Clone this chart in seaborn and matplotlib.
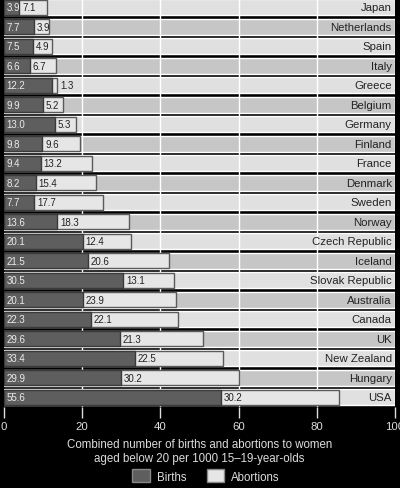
import matplotlib
matplotlib.use("Agg")
import matplotlib.pyplot as plt
from matplotlib.patches import Patch
import seaborn as sns
import pandas as pd

countries = ["Japan", "Netherlands", "Spain", "Italy", "Greece", "Belgium", "Germany",
             "Finland", "France", "Denmark", "Sweden", "Norway", "Czech Republic", "Iceland",
             "Slovak Republic", "Australia", "Canada", "UK", "New Zealand", "Hungary", "USA"]
births = [3.9, 7.7, 7.5, 6.6, 12.2, 9.9, 13.0, 9.8, 9.4, 8.2, 7.7, 13.6, 20.1, 21.5,
          30.5, 20.1, 22.3, 29.6, 33.4, 29.9, 55.6]
abortions = [7.1, 3.9, 4.9, 6.7, 1.3, 5.2, 5.3, 9.6, 13.2, 15.4, 17.7, 18.3, 12.4, 20.6,
             13.1, 23.9, 22.1, 21.3, 22.5, 30.2, 30.2]
xticks = [0, 20, 40, 60, 80, 100]

df = pd.DataFrame({"country": countries, "births": births, "abortions": abortions})
df["total"] = df["births"] + df["abortions"]

sns.set_style("dark")
plt.rcParams["font.family"] = ["Liberation Sans", "DejaVu Sans"]

fig = plt.figure(figsize=(4.0, 4.89), dpi=100, facecolor="black")
ax = fig.add_axes([0.01, 0.1656, 0.9775, 0.8344])
ax.set_facecolor("black")

# alternating row stripes
n = len(countries)
stripe_cols = ["#e0e0e0" if i % 2 == 0 else "#c6c6c6" for i in range(n)]
ax.barh(range(n), [100] * n, height=0.84, color=stripe_cols, zorder=0)
for g in [20, 40, 60, 80]:
    ax.axvline(g, color="white", lw=1, zorder=1)

# stacked bars: total first (abortions colour) then births on top
sns.barplot(data=df, y="country", x="total", orient="h", color="#e6e6e6",
            edgecolor="#5a5a5a", linewidth=1, width=0.78, saturation=1, ax=ax, zorder=2)
sns.barplot(data=df, y="country", x="births", orient="h", color="#5e5e5e",
            edgecolor="#3a3a3a", linewidth=1, width=0.78, saturation=1, ax=ax, zorder=3)

for i, row in df.iterrows():
    ax.text(0.6, i, f"{row.births:.1f}", color="#ececec", fontsize=7,
            va="center", ha="left", zorder=4)
    xa = row.births + 0.7 if row.abortions > 3 else row.total + 1.0
    ax.text(xa, i, f"{row.abortions:.1f}", color="#222222", fontsize=7,
            va="center", ha="left", zorder=4)
    ax.text(99.2, i, row.country, color="#222222", fontsize=8.2,
            va="center", ha="right", zorder=4)

ax.set_xlim(0, 100)
ax.set_ylim(n - 0.5, -0.42)
ax.set_yticks([])
ax.set_ylabel("")
ax.set_xticks(xticks)
ax.set_xticklabels([str(t) for t in xticks])
ax.tick_params(axis="x", colors="#dddddd", length=8, width=1, pad=2, labelsize=8.2,
               direction="out", bottom=True)
ax.grid(False)
for s in ax.spines.values():
    s.set_visible(False)
ax.set_xlabel("Combined number of births and abortions to women\naged below 20 per 1000 15–19-year-olds",
              color="#dddddd", fontsize=8.3, labelpad=5, linespacing=1.25)

handles = [Patch(facecolor="#5e5e5e", edgecolor="#888888", label="Births"),
           Patch(facecolor="#e6e6e6", edgecolor="#888888", label="Abortions")]
leg = fig.legend(handles=handles, loc="lower center", bbox_to_anchor=(0.515, -0.01), ncol=2,
                 frameon=False, fontsize=8.3, handlelength=1.5, handleheight=1.4,
                 columnspacing=1.8, handletextpad=0.6)
for t in leg.get_texts():
    t.set_color("#dddddd")

fig.savefig("out.png", dpi=100, facecolor="black")
